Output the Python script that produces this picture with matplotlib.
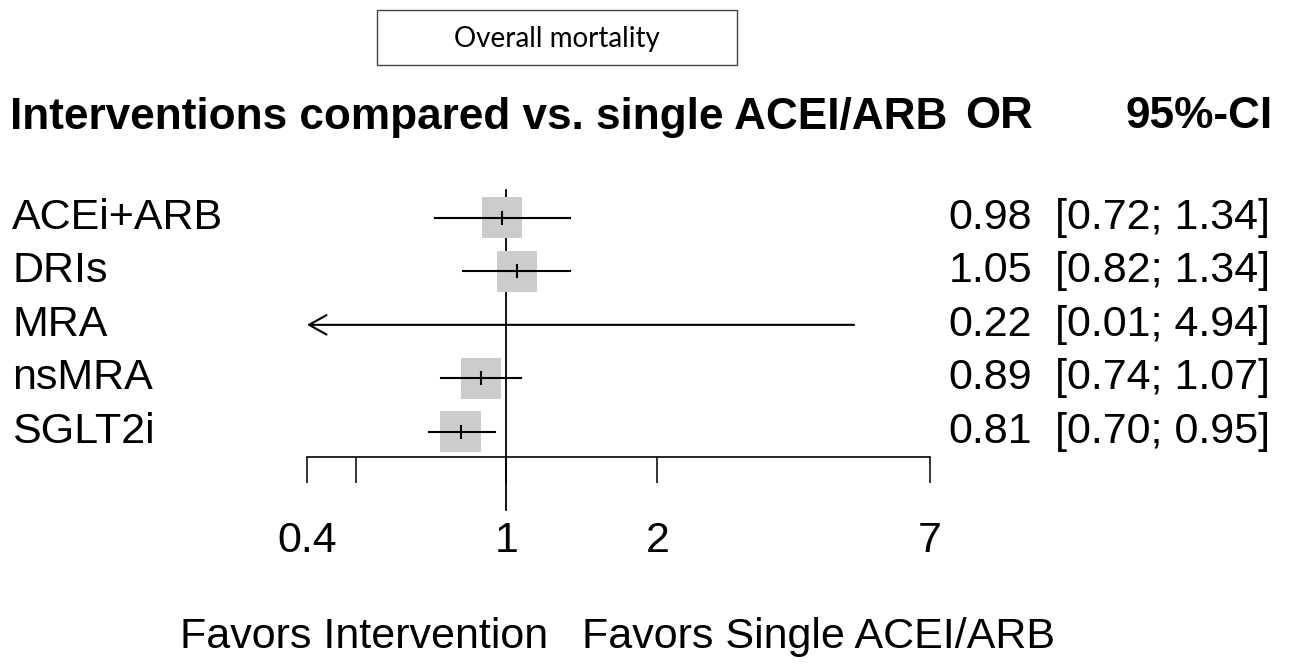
import matplotlib.pyplot as plt
import matplotlib.patches as patches
import matplotlib.transforms as transforms

# data
labels = ["ACEi+ARB", "DRIs", "MRA", "nsMRA", "SGLT2i"]
odds = [0.98, 1.05, 0.22, 0.89, 0.81]
lower = [0.72, 0.82, 0.01, 0.74, 0.70]
upper = [1.34, 1.34, 4.94, 1.07, 0.95]
xticks = [0.4, 0.5, 1, 2, 7]
xticklabels = ["0.4", "", "1", "2", "7"]

W, H = 1292, 666
xmin, xmax = 0.4, 7
FS = 31

plt.rcParams['font.family'] = ['Liberation Sans', 'DejaVu Sans']

fig = plt.figure(figsize=(W / 100, H / 100), dpi=100)
ax = fig.add_axes([307 / W, 1 - 457 / H, (930 - 307) / W, (457 - 190) / H])
ax.set_xscale('log')
ax.set_xlim(xmin, xmax)
ax.set_ylim(len(labels) - 0.53, -0.52)

# reference line at OR = 1
ax.plot([1, 1], [-0.52, len(labels) + 0.46], color='black', lw=1.3,
        clip_on=False, zorder=1)

for i, (o, lo, hi) in enumerate(zip(odds, lower, upper)):
    if xmin <= o <= xmax:
        ax.scatter([o], [i], marker='s', s=860, color='#cccccc',
                   edgecolors='none', zorder=2)
        ax.plot([o, o], [i - 0.11, i + 0.11], color='black', lw=1.5, zorder=4)
    lo_c = max(lo, xmin)
    hi_c = min(hi, xmax)
    if lo < xmin:
        # CI runs past the axis limit: draw an arrow
        ax.annotate('', xy=(lo_c, i), xytext=(hi_c, i),
                    arrowprops=dict(arrowstyle='->,head_length=0.5,head_width=0.28',
                                    lw=1.5, color='black', shrinkA=0, shrinkB=0,
                                    mutation_scale=25),
                    annotation_clip=False, zorder=3)
    else:
        ax.plot([lo_c, hi_c], [i, i], color='black', lw=1.5, zorder=3)

for s in ['top', 'right', 'left']:
    ax.spines[s].set_visible(False)
ax.spines['bottom'].set_bounds(xmin, xmax)
ax.spines['bottom'].set_linewidth(1.2)
ax.set_yticks([])
ax.minorticks_off()
ax.set_xticks(xticks)
ax.set_xticklabels(xticklabels)
ax.tick_params(axis='x', length=19, width=1.1, pad=27, labelsize=FS,
               direction='out')
ax.xaxis.set_minor_locator(plt.NullLocator())

# text columns
tr = transforms.blended_transform_factory(fig.transFigure, ax.transData)
for i, lab in enumerate(labels):
    ax.text(12 / W, i, lab, transform=tr, ha='left', va='center', fontsize=FS)
    ax.text(1032 / W, i, f"{odds[i]:.2f}", transform=tr, ha='right',
            va='center', fontsize=FS)
    ax.text(1270 / W, i, f"[{lower[i]:.2f}; {upper[i]:.2f}]", transform=tr,
            ha='right', va='center', fontsize=FS)

fig.text(10 / W, 1 - 117 / H, "Interventions compared vs. single ACEI/ARB",
         ha='left', va='center', fontsize=31.8, fontweight='bold')
fig.text(1033 / W, 1 - 117 / H, "OR", ha='right', va='center', fontsize=32.5,
         fontweight='bold')
fig.text(1273 / W, 1 - 117 / H, "95%-CI", ha='right', va='center',
         fontsize=31.8, fontweight='bold')

# favours labels
fig.text(548 / W, 1 - 637 / H, "Favors Intervention", ha='right',
         va='center', fontsize=FS)
fig.text(582 / W, 1 - 637 / H, "Favors Single ACEI/ARB", ha='left',
         va='center', fontsize=FS)

# boxed title
fig.patches.append(patches.Rectangle((377 / W, 1 - 65 / H), 360 / W, 55 / H,
                                     transform=fig.transFigure, fill=False,
                                     edgecolor='#444444', lw=1))
fig.text(557 / W, 1 - 39 / H, "Overall mortality", ha='center', va='center',
         fontsize=20, family=['Lato', 'DejaVu Sans'])

fig.savefig('out.png', dpi=100)
